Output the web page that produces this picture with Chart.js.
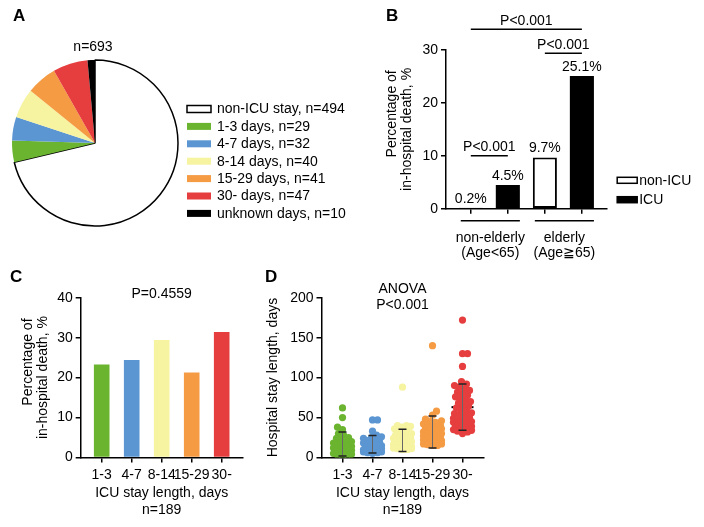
<!DOCTYPE html>
<html>
<head>
<meta charset="utf-8">
<script src="https://cdn.jsdelivr.net/npm/chart.js@4.4.1/dist/chart.umd.min.js"></script>
<style>
  html, body { margin: 0; padding: 0; background: #fff; }
  #page { position: relative; width: 704px; height: 527px; overflow: hidden; }
  #page canvas { position: absolute; left: 0; top: 0; }
  .tag { position: absolute; z-index: 5; font: bold 17px 'Liberation Sans', Arial, sans-serif; line-height: 17px; color: #000; }
</style>
</head>
<body>
<div id="page">
  <canvas id="pieA" width="704" height="527"></canvas>
  <canvas id="barB" width="704" height="527"></canvas>
  <canvas id="barC" width="704" height="527"></canvas>
  <canvas id="dotD" width="704" height="527"></canvas>
  <div class="tag" style="left:13px;top:7px">A</div>
  <div class="tag" style="left:386px;top:7px">B</div>
  <div class="tag" style="left:10px;top:268px">C</div>
  <div class="tag" style="left:265px;top:268px">D</div>
</div>
<script>
const FONT = "'Liberation Sans', Arial, sans-serif";
Chart.defaults.font.family = FONT;
Chart.defaults.font.size = 14;
Chart.defaults.color = '#000';

// --- A: ICU stay of all patients
const pieNames = ['non-ICU stay', '1-3 days', '4-7 days', '8-14 days', '15-29 days', '30- days', 'unknown days'];
const pieCounts = [494, 29, 32, 40, 41, 47, 10];
const pieColors = ['#ffffff', '#6bb42f', '#5b96d2', '#f6f3a1', '#f49b44', '#e63e3e', '#000000'];

// --- B: in-hospital death by age and ICU
const ageGroups = [['non-elderly', '(Age<65)'], ['elderly', '(Age\u2267' + '65)']];
const nonIcuDeath = [0.2, 9.7];
const icuDeath = [4.5, 25.1];

// --- C / D: by ICU stay length
const stayCats = ['1-3', '4-7', '8-14', '15-29', '30-'];
const stayColors = ['#6bb42f', '#5b96d2', '#f6f3a1', '#f49b44', '#e63e3e'];
const deathByStay = [23.3, 24.4, 29.4, 21.3, 31.4];

const stay1to3 = [62, 50, 38, 35, 30, 28, 25, 24, 22, 20, 19, 18, 16, 15, 14, 13, 12, 11, 10, 9, 8, 7, 6, 5, 5, 4, 3, 3, 2];
const stay4to7 = [47, 47, 33, 28, 26, 25, 24, 22, 21, 20, 19, 18, 17, 16, 15, 14, 14, 13, 12, 12, 11, 10, 10, 9, 9, 8, 8, 7, 7, 6, 6, 5];
const stay8to14 = [88, 40, 40, 39, 38, 36, 34, 32, 30, 29, 28, 27, 26, 25, 24, 23, 22, 21, 21, 20, 19, 19, 18, 18, 17, 17, 16, 16, 15, 15, 14, 14, 13, 13, 12, 12, 11, 11, 10, 10];
const stay15to29 = [140, 58, 53, 48, 46, 45, 44, 42, 41, 40, 39, 38, 37, 36, 35, 34, 33, 32, 31, 30, 30, 29, 28, 27, 26, 26, 25, 24, 23, 22, 22, 21, 20, 20, 19, 18, 17, 17, 16, 15, 15];
const stay30plus = [172, 130, 130, 114, 95, 92, 90, 88, 86, 84, 82, 80, 78, 76, 74, 72, 70, 68, 66, 64, 62, 60, 58, 56, 55, 54, 52, 50, 49, 48, 47, 46, 45, 44, 43, 42, 41, 40, 39, 38, 37, 36, 35, 34, 33, 32, 30];
const stayMean = [17, 16.5, 21.5, 32, 63];
const staySd = [15, 11, 14, 20, 29];

const stayGroups = [stay1to3, stay4to7, stay8to14, stay15to29, stay30plus];
const icuTotal = stayGroups.reduce((a, g) => a + g.length, 0);

// first line sits a bit higher than the second in the original
const deathTitle = ['        Percentage of', 'in-hospital death, %'];

const axisLine = { color: '#000', width: 1.5 };
const tickGrid = { drawOnChartArea: false, drawTicks: true, tickLength: 5, color: '#000', lineWidth: 1.5 };

function yAxis(max, step, title, width) {
    return {
        min: 0, max: max,
        ticks: { stepSize: step, padding: 3 },
        grid: tickGrid,
        border: axisLine,
        title: { display: true, text: title, padding: 0, font: { size: 14, lineHeight: '15px' } },
        afterFit: s => { s.width = width; }
    };
}

function stayXAxis() {
    return {
        type: 'linear', min: 0.3, max: 5.7, bounds: 'data', offset: false,
        afterBuildTicks: s => { s.ticks = stayCats.map((c, i) => ({ value: i + 1 })); },
        ticks: { callback: (v, i) => stayCats[i], autoSkip: false, maxRotation: 0, padding: 4 },
        grid: { ...tickGrid, offset: false },
        border: axisLine,
        title: { display: true, text: ['ICU stay length, days', 'n=' + icuTotal], padding: 0, font: { size: 14, lineHeight: 1.2 } },
        afterFit: s => { s.height = 61; }
    };
}

const base = {
    responsive: false,
    animation: false,
    devicePixelRatio: 1,
    events: []
};

// ---------- A ----------
const pieExtras = {
    id: 'pieExtras',
    afterDraw(chart) {
        const { ctx } = chart;
        const arc = chart.getDatasetMeta(0).data[0];
        const total = pieCounts.reduce((a, b) => a + b, 0);
        ctx.save();
        ctx.font = `14px ${FONT}`;
        ctx.fillStyle = '#000';
        ctx.textAlign = 'center';
        ctx.textBaseline = 'middle';
        ctx.fillText('n=' + total, arc.x - 2, arc.y - arc.outerRadius - 13);

        ctx.textAlign = 'left';
        const left = arc.x + arc.outerRadius + 9;
        pieNames.forEach((name, i) => {
            const y = arc.y - 34 + i * 17.4;
            ctx.fillStyle = pieColors[i];
            ctx.fillRect(left, y - 3.5, 24, 7);
            if (i === 0) {
                ctx.strokeStyle = '#000';
                ctx.lineWidth = 1.5;
                ctx.strokeRect(left, y - 3.5, 24, 7);
            }
            ctx.fillStyle = '#000';
            ctx.fillText(`${name}, n=${pieCounts[i]}`, left + 30, y + 0.5);
        });
        ctx.restore();
    }
};

new Chart(document.getElementById('pieA'), {
    type: 'pie',
    data: {
        labels: pieNames,
        datasets: [{
            data: pieCounts,
            backgroundColor: pieColors,
            borderColor: '#000',
            borderWidth: pieColors.map((c, i) => i === 0 ? 1.5 : 0)
        }]
    },
    options: {
        ...base,
        layout: { padding: { left: 11.25, top: 59.25, right: 525.25, bottom: 300.25 } },
        plugins: { legend: { display: false }, tooltip: { enabled: false } }
    },
    plugins: [pieExtras]
});

// ---------- B ----------
const bBrackets = [
    { from: 1, to: 4, at: 33.9, text: 'P<0.001' },
    { from: 3, to: 4, at: 29.4, text: 'P<0.001' },
    { from: 1, to: 2, at: 10.0, text: 'P<0.001' }
];

const barAnnot = {
    id: 'barAnnot',
    afterDraw(chart) {
        const { ctx, chartArea, scales: { x, y } } = chart;
        ctx.save();
        ctx.font = `14px ${FONT}`;
        ctx.fillStyle = '#000';
        ctx.strokeStyle = '#000';
        ctx.lineWidth = 1.5;
        ctx.textAlign = 'center';
        ctx.textBaseline = 'middle';

        // values above bars
        chart.data.datasets.forEach((ds, di) => {
            chart.getDatasetMeta(di).data.forEach((bar, i) => {
                ctx.fillText(ds.data[i].y.toFixed(1) + '%', bar.x, bar.y - 9);
            });
        });

        // significance lines
        bBrackets.forEach(b => {
            const py = y.getPixelForValue(b.at);
            const x1 = x.getPixelForValue(b.from), x2 = x.getPixelForValue(b.to);
            ctx.beginPath();
            ctx.moveTo(x1, py);
            ctx.lineTo(x2, py);
            ctx.stroke();
            ctx.fillText(b.text, (x1 + x2) / 2, py - 8.5);
        });

        // age group lines and labels
        const bars = chart.getDatasetMeta(0).data.concat(chart.getDatasetMeta(1).data)
            .sort((a, b) => a.x - b.x);
        ageGroups.forEach((lines, g) => {
            const a = bars[2 * g], b = bars[2 * g + 1];
            const l = a.x - a.width / 2 + 2, r = b.x + b.width / 2;
            const ly = chartArea.bottom + 12;
            ctx.beginPath();
            ctx.moveTo(l, ly);
            ctx.lineTo(r, ly);
            ctx.stroke();
            lines.forEach((t, k) => ctx.fillText(t, (l + r) / 2, ly + 17.5 + k * 15));
        });

        // legend
        ctx.textAlign = 'left';
        chart.data.datasets.forEach((ds, di) => {
            const cy = chartArea.bottom - 28.5 + di * 19.4;
            const lx = chartArea.right + 10.5;
            ctx.fillStyle = ds.backgroundColor;
            ctx.fillRect(lx, cy - 3, 20, 6);
            ctx.strokeRect(lx, cy - 3, 20, 6);
            ctx.fillStyle = '#000';
            ctx.fillText(ds.label, lx + 22, cy + 0.5);
        });
        ctx.restore();
    }
};

new Chart(document.getElementById('barB'), {
    type: 'bar',
    data: {
        datasets: [{
            label: 'non-ICU',
            data: nonIcuDeath.map((v, g) => ({ x: 2 * g + 1, y: v })),
            backgroundColor: '#ffffff',
            borderColor: '#000',
            borderWidth: 2,
            borderSkipped: false
        }, {
            label: 'ICU',
            data: icuDeath.map((v, g) => ({ x: 2 * g + 2, y: v })),
            backgroundColor: '#000000',
            borderWidth: 0
        }]
    },
    options: {
        ...base,
        grouped: false,
        barPercentage: 0.65,
        categoryPercentage: 1,
        layout: { padding: { left: 384.2, top: 50, right: 97.3, bottom: 308.2 } },
        plugins: { legend: { display: false }, tooltip: { enabled: false } },
        scales: {
            x: {
                type: 'linear', min: 0.33, max: 4.67, bounds: 'data', offset: false,
                afterBuildTicks: s => { s.ticks = [1, 2, 3, 4].map(v => ({ value: v })); },
                ticks: { display: false },
                grid: { ...tickGrid, offset: false },
                border: axisLine,
                afterFit: s => { s.height = 10; }
            },
            y: yAxis(30, 10, deathTitle, 61.8)
        }
    },
    plugins: [barAnnot]
});

// ---------- C ----------
const cNote = {
    id: 'cNote',
    afterDraw(chart) {
        const { ctx, chartArea, scales: { x } } = chart;
        ctx.save();
        ctx.font = `14px ${FONT}`;
        ctx.fillStyle = '#000';
        ctx.textAlign = 'center';
        ctx.textBaseline = 'middle';
        ctx.fillText('P=0.4559', x.getPixelForValue(3), chartArea.top - 3.4);
        ctx.restore();
    }
};

new Chart(document.getElementById('barC'), {
    type: 'bar',
    data: {
        datasets: [{
            data: deathByStay.map((v, i) => ({ x: i + 1, y: v })),
            backgroundColor: stayColors,
            borderWidth: 0
        }]
    },
    options: {
        ...base,
        barPercentage: 0.52,
        categoryPercentage: 1,
        layout: { padding: { left: 20.8, top: 297.7, right: 461.3, bottom: 8.5 } },
        plugins: { legend: { display: false }, tooltip: { enabled: false } },
        scales: {
            x: stayXAxis(),
            y: yAxis(40, 10, deathTitle, 59.9)
        }
    },
    plugins: [cNote]
});

// ---------- D ----------
const dNotes = {
    id: 'dNotes',
    beforeDatasetsDraw(chart) {
        const { ctx, scales: { x, y } } = chart;
        ctx.save();
        ctx.strokeStyle = '#000';
        ctx.lineWidth = 2;
        stayMean.forEach((m, i) => {
            const px = x.getPixelForValue(i + 1), py = y.getPixelForValue(m);
            ctx.beginPath();
            ctx.moveTo(px - 11, py);
            ctx.lineTo(px + 11, py);
            ctx.stroke();
        });
        ctx.restore();
    },
    afterDatasetsDraw(chart) {
        const { ctx, scales: { x, y } } = chart;
        ctx.save();
        stayMean.forEach((m, i) => {
            const px = x.getPixelForValue(i + 1);
            const hi = y.getPixelForValue(m + staySd[i]);
            const lo = y.getPixelForValue(Math.max(m - staySd[i], 0));
            ctx.strokeStyle = '#666';
            ctx.lineWidth = 1;
            ctx.beginPath();
            ctx.moveTo(px, hi);
            ctx.lineTo(px, lo);
            ctx.stroke();
            ctx.strokeStyle = '#222';
            ctx.lineWidth = 1.5;
            ctx.beginPath();
            ctx.moveTo(px - 4, hi); ctx.lineTo(px + 4, hi);
            ctx.moveTo(px - 4, lo); ctx.lineTo(px + 4, lo);
            ctx.stroke();
        });
        ctx.restore();
    },
    afterDraw(chart) {
        const { ctx, chartArea, scales: { x } } = chart;
        ctx.save();
        ctx.font = `14px ${FONT}`;
        ctx.fillStyle = '#000';
        ctx.textAlign = 'center';
        ctx.textBaseline = 'middle';
        ctx.fillText('ANOVA', x.getPixelForValue(3), chartArea.top - 8.4);
        ctx.fillText('P<0.001', x.getPixelForValue(3), chartArea.top + 7.3);
        ctx.restore();
    }
};

const dotChart = new Chart(document.getElementById('dotD'), {
    type: 'scatter',
    data: {
        datasets: stayGroups.map((g, i) => ({
            label: stayCats[i],
            data: g.map(v => ({ x: i + 1, y: v })),
            backgroundColor: stayColors[i],
            borderWidth: 0,
            pointRadius: 3.6
        }))
    },
    options: {
        ...base,
        layout: { padding: { left: 265.2, top: 297.7, right: 220.5, bottom: 8.5 } },
        plugins: { legend: { display: false }, tooltip: { enabled: false } },
        scales: {
            x: stayXAxis(),
            y: yAxis(200, 50, 'Hospital stay length, days', 56.3)
        }
    },
    plugins: [dNotes]
});

// spread the dots of each column sideways so they do not pile up
function spreadDots(chart, minGap, maxOff) {
    const xs = chart.scales.x, ys = chart.scales.y;
    chart.data.datasets.forEach((ds, gi) => {
        const cx = xs.getPixelForValue(gi + 1);
        const placed = [];
        const order = ds.data.map((p, k) => k).sort((a, b) => ds.data[a].y - ds.data[b].y);
        order.forEach((k, n) => {
            const py = ys.getPixelForValue(ds.data[k].y);
            let best = 0, bestGap = -1, done = false;
            for (let s = 0; s <= maxOff && !done; s++) {
                const cands = s === 0 ? [0] : (n % 2 ? [s, -s] : [-s, s]);
                for (const off of cands) {
                    let gap = Infinity;
                    placed.forEach(p => { gap = Math.min(gap, Math.hypot(p[0] - off, p[1] - py)); });
                    if (gap >= minGap) { best = off; done = true; break; }
                    if (gap > bestGap) { bestGap = gap; best = off; }
                }
            }
            placed.push([best, py]);
            ds.data[k].x = xs.getValueForPixel(cx + best);
        });
    });
    chart.update('none');
}
spreadDots(dotChart, 5, 9);
</script>
</body>
</html>
